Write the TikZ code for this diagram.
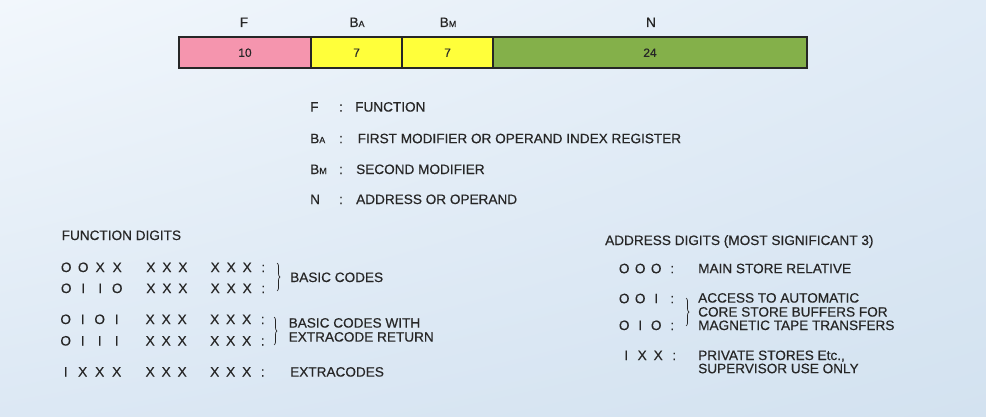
\documentclass[tikz,border=0pt]{standalone}
\usepackage{fontspec}
\setmainfont{Liberation Sans}[FakeBold=0.4]
\usetikzlibrary{decorations.pathreplacing,shadings}
\definecolor{ink}{HTML}{262626}
\definecolor{pinkF}{HTML}{F595AE}
\definecolor{yellowB}{HTML}{FFFF3A}
\definecolor{greenN}{HTML}{84B04A}
\definecolor{bgUL}{HTML}{F2F7FC}
\definecolor{bgUR}{HTML}{E0EBF6}
\definecolor{bgLL}{HTML}{DCE8F4}
\definecolor{bgLR}{HTML}{D3E2F0}
\newcommand\cA[1]{\makebox[17pt]{#1}}
\newcommand\cB[1]{\makebox[16pt]{#1}}
\newcommand\subsc[1]{{\fontsize{9}{9}\selectfont #1}}
\tikzset{
  txt/.style={font=\fontsize{13.6}{14}\selectfont, text=ink, inner sep=0pt, anchor=base west},
  ctxt/.style={font=\fontsize{13.6}{14}\selectfont, text=ink, inner sep=0pt, anchor=base},
  cell/.style={draw=ink, line width=1.1pt, minimum height=30pt, inner sep=0pt,
    font=\fontsize{12}{12}\selectfont, text=ink},
  brk/.style={draw=ink, line width=0.7pt, decorate, decoration={brace, amplitude=3pt}}
}
\begin{document}
\begin{tikzpicture}
\shade[upper left=bgUL, upper right=bgUR, lower left=bgLL, lower right=bgLR]
  (0,0) rectangle (986pt,416pt);
\useasboundingbox (0,0) rectangle (986pt,416pt);
\begin{scope}[x=1pt, y=-1pt, shift={(0pt,416pt)}]
% word format bar
\node[cell, fill=pinkF, minimum width=132pt] (cF) at (245,52.7) {10};
\node[cell, fill=yellowB, minimum width=91pt] (cBA) at (356.5,52.7) {7};
\node[cell, fill=yellowB, minimum width=91pt] (cBM) at (447.5,52.7) {7};
\node[cell, fill=greenN, minimum width=314pt] (cN) at (650,52.7) {24};
\draw[ink, line width=1.8pt] (cF.north west) rectangle (cN.south east);
\node[ctxt] (hF) at (244,27) {F};
\node[ctxt] (hBA) at (357,27) {B\subsc{A}};
\node[ctxt] (hBM) at (448,27) {B\subsc{M}};
\node[ctxt] (hN) at (651,27) {N};
% legend
\node[txt] (kF) at (310,111.6) {F};
\node[ctxt] (k1) at (341,111.6) {:};
\node[txt] (vF) at (355,111.6) {FUNCTION};
\node[txt] (kBA) at (310,143.2) {B\subsc{A}};
\node[ctxt] (k2) at (341,143.2) {:};
\node[txt] (vBA) at (357.5,143.2) {FIRST MODIFIER OR OPERAND INDEX REGISTER};
\node[txt] (kBM) at (310,174) {B\subsc{M}};
\node[ctxt] (k3) at (341,174) {:};
\node[txt] (vBM) at (356,174) {SECOND MODIFIER};
\node[txt] (kN) at (310,204) {N};
\node[ctxt] (k4) at (341,204) {:};
\node[txt] (vN) at (356,204) {ADDRESS OR OPERAND};
% function digits
\node[txt] (fd) at (61.5,240) {FUNCTION DIGITS};
\node[txt] (r1a) at (57.5,272) {\cA{O}\cA{O}\cA{X}\cA{X}};
\node[txt] (r1b) at (142.7,272) {\cB{X}\cB{X}\cB{X}};
\node[txt] (r1c) at (207,272) {\cB{X}\cB{X}\cB{X}\cB{:}};
\node[txt] (r2a) at (57.5,293) {\cA{O}\cA{I}\cA{I}\cA{O}};
\node[txt] (r2b) at (142.7,293) {\cB{X}\cB{X}\cB{X}};
\node[txt] (r2c) at (207,293) {\cB{X}\cB{X}\cB{X}\cB{:}};
\node[txt] (r3a) at (57,324) {\cA{O}\cA{I}\cA{O}\cA{I}};
\node[txt] (r3b) at (142,324) {\cB{X}\cB{X}\cB{X}};
\node[txt] (r3c) at (206.5,324) {\cB{X}\cB{X}\cB{X}\cB{:}};
\node[txt] (r4a) at (57,345.5) {\cA{O}\cA{I}\cA{I}\cA{I}};
\node[txt] (r4b) at (142,345.5) {\cB{X}\cB{X}\cB{X}};
\node[txt] (r4c) at (206.5,345.5) {\cB{X}\cB{X}\cB{X}\cB{:}};
\node[txt] (r5a) at (57,376.5) {\cA{I}\cA{X}\cA{X}\cA{X}};
\node[txt] (r5b) at (142,376.5) {\cB{X}\cB{X}\cB{X}};
\node[txt] (r5c) at (206.5,376.5) {\cB{X}\cB{X}\cB{X}\cB{:}};
\coordinate (b1t) at (277,263);
\coordinate (b1b) at (277,291);
\draw[brk] (b1t) -- (b1b);
\node[txt] (bc) at (290,282) {BASIC CODES};
\coordinate (b2t) at (274,317);
\coordinate (b2b) at (274,345);
\draw[brk] (b2t) -- (b2b);
\node[txt] (bcw) at (288.5,327.6) {BASIC CODES WITH};
\node[txt] (ecr) at (288.5,341.6) {EXTRACODE RETURN};
\node[txt] (ec) at (290,376.6) {EXTRACODES};
% address digits
\node[txt] (ad) at (605,245) {ADDRESS DIGITS (MOST SIGNIFICANT 3)};
\node[txt] (a1) at (616,273.2) {\cB{O}\cB{O}\cB{O}\cB{:}};
\node[txt] (m1) at (698,273.2) {MAIN STORE RELATIVE};
\node[txt] (a2) at (616,303.2) {\cB{O}\cB{O}\cB{I}\cB{:}};
\node[txt] (a3) at (616,330) {\cB{O}\cB{I}\cB{O}\cB{:}};
\coordinate (b3t) at (686,298);
\coordinate (b3b) at (686,326);
\draw[brk] (b3t) -- (b3b);
\node[txt] (m2) at (698,302.6) {ACCESS TO AUTOMATIC};
\node[txt] (m3) at (698,316.6) {CORE STORE BUFFERS FOR};
\node[txt] (m4) at (698,330) {MAGNETIC TAPE TRANSFERS};
\node[txt] (a4) at (618,360) {\cB{I}\cB{X}\cB{X}\cB{:}};
\node[txt] (m5) at (698,360) {PRIVATE STORES Etc.,};
\node[txt] (m6) at (698,373.2) {SUPERVISOR USE ONLY};
\end{scope}
\end{tikzpicture}
\end{document}
